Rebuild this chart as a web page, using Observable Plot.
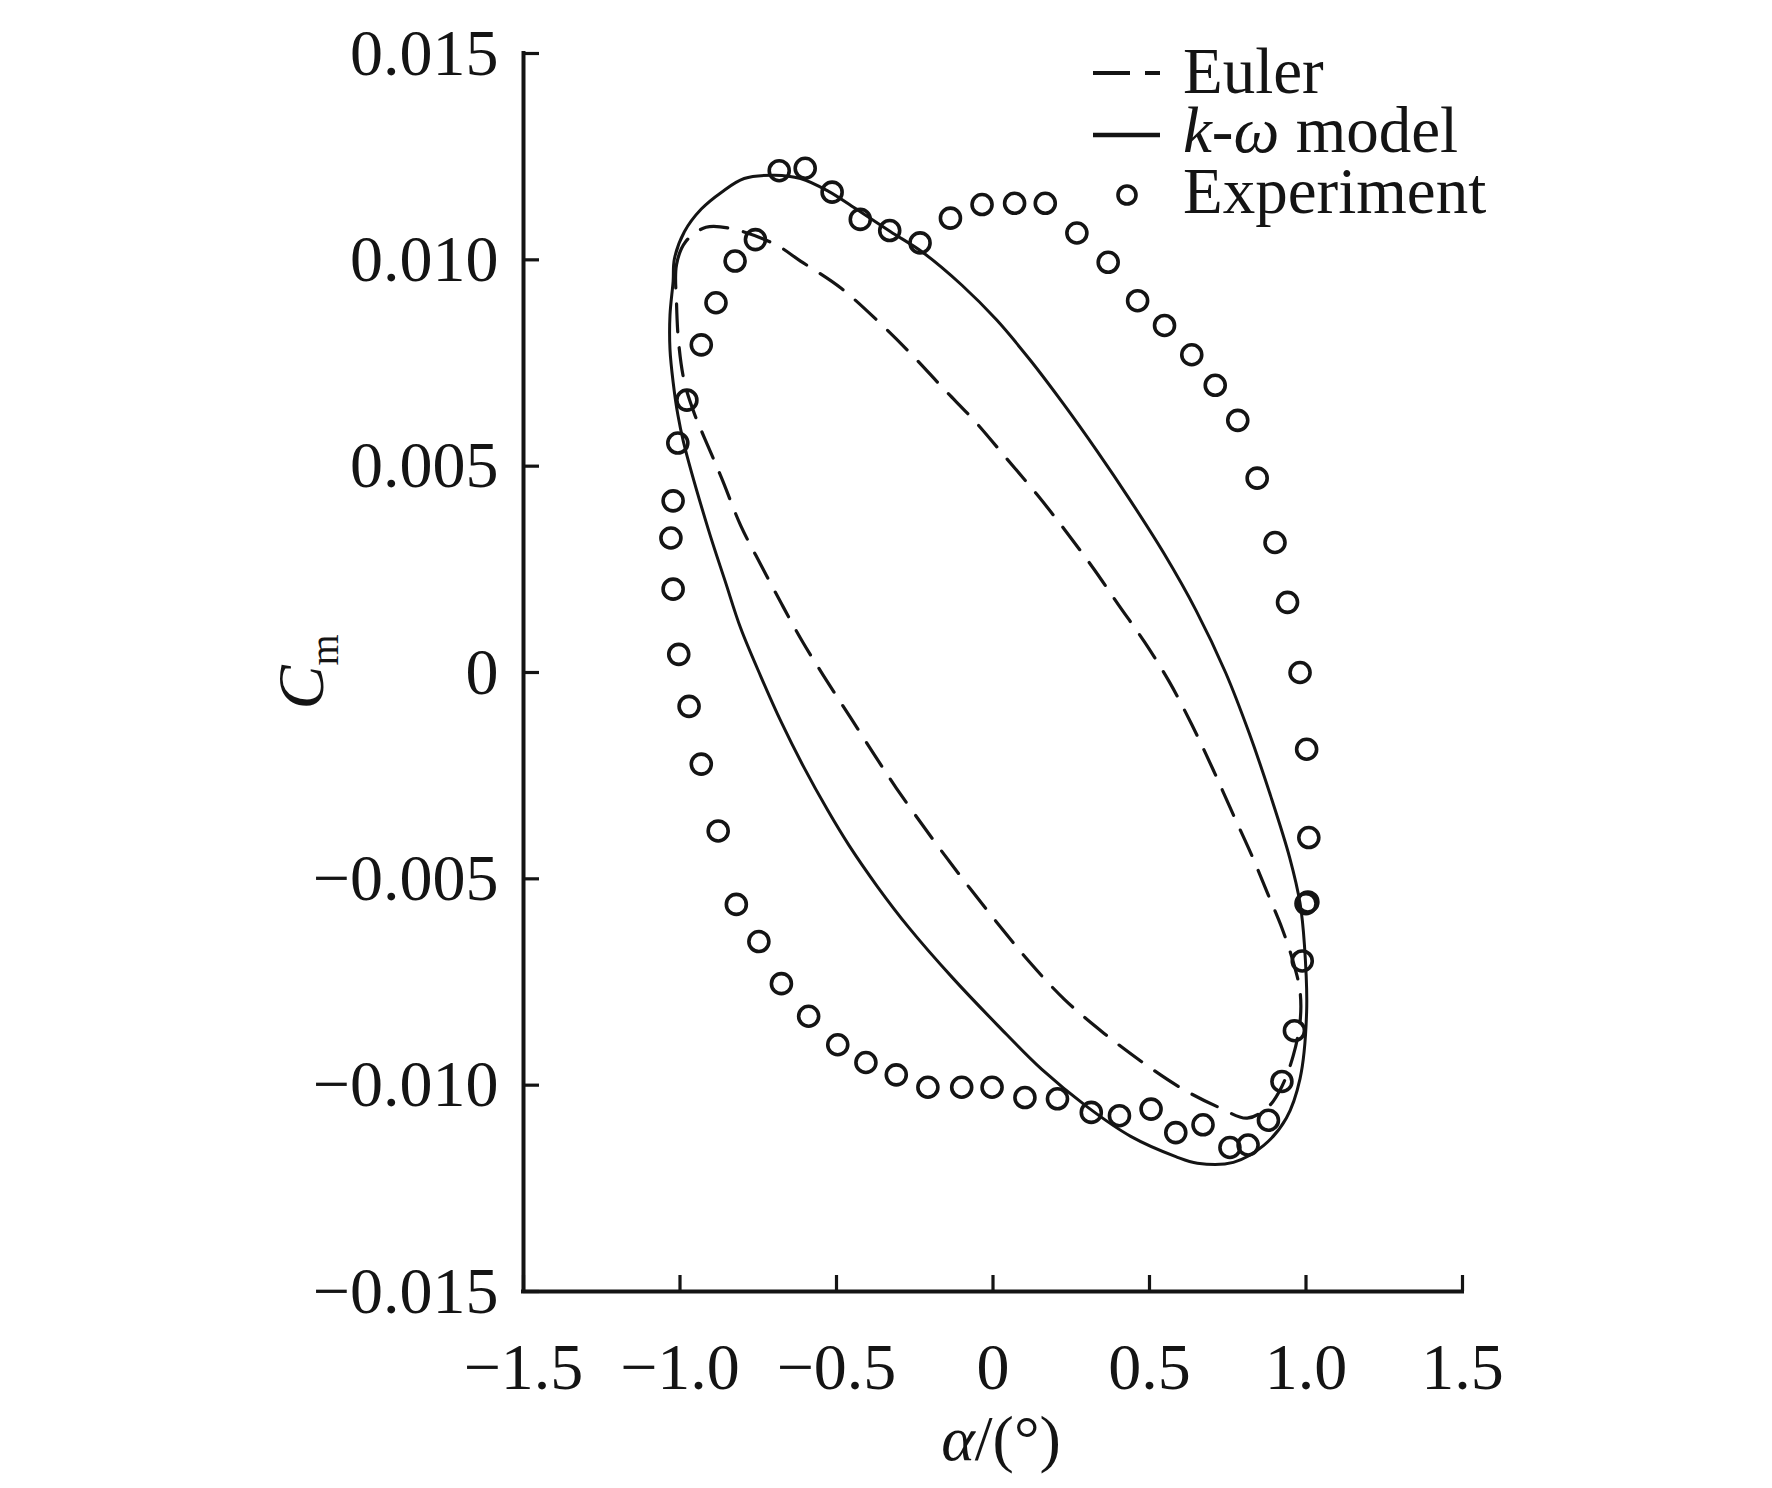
<!DOCTYPE html>
<html><head><meta charset="utf-8">
<script src="https://cdn.jsdelivr.net/npm/d3@7"></script>
<script src="https://cdn.jsdelivr.net/npm/@observablehq/plot@0.6"></script>
<style>html,body{margin:0;padding:0;background:#fff;} svg{display:block;}</style>
</head><body><div id="chart"></div>
<script>
// ---- tick values and labels ----
const xTicks = [-1.5, -1.0, -0.5, 0, 0.5, 1.0, 1.5];
const xTickLabels = ["\u22121.5", "\u22121.0", "\u22120.5", "0", "0.5", "1.0", "1.5"];
const yTicks = [0.015, 0.010, 0.005, 0, -0.005, -0.010, -0.015];
const yTickLabels = ["0.015", "0.010", "0.005", "0", "\u22120.005", "\u22120.010", "\u22120.015"];

// ---- legend labels ----
const legendLabels = ["Euler", "k-\u03c9 model", "Experiment"];

// ---- Experiment (circles) ----
const expAlpha = [-0.683,-0.600,-0.514,-0.424,-0.330,-0.233,-0.136,-0.035,0.069,0.167,0.268,0.368,0.462,0.548,0.635,0.710,0.782,0.844,0.901,0.941,0.981,1.002,1.009,1.006,1.000,0.988,0.963,0.923,0.880,0.815,0.757,0.671,0.584,0.505,0.404,0.314,0.206,0.102,-0.003,-0.100,-0.208,-0.309,-0.406,-0.496,-0.589,-0.676,-0.748,-0.820,-0.878,-0.932,-0.971,-1.004,-1.022,-1.029,-1.022,-1.007,-0.978,-0.932,-0.885,-0.824,-0.759];
const expCm = [0.01216,0.01222,0.01164,0.01098,0.01071,0.01041,0.01101,0.01134,0.01137,0.01137,0.01065,0.00994,0.00901,0.00841,0.00770,0.00696,0.00611,0.00471,0.00315,0.00170,0.00000,-0.00186,-0.00400,-0.00556,-0.00560,-0.00699,-0.00868,-0.00991,-0.01085,-0.01145,-0.01151,-0.01096,-0.01115,-0.01058,-0.01074,-0.01066,-0.01033,-0.01030,-0.01005,-0.01005,-0.01005,-0.00975,-0.00945,-0.00902,-0.00833,-0.00754,-0.00652,-0.00562,-0.00384,-0.00222,-0.00082,0.00044,0.00202,0.00326,0.00416,0.00556,0.00660,0.00794,0.00896,0.00997,0.01049];

// ---- k-omega model (solid closed loop) ----
const komegaAlpha = [-1.032,-1.032,-1.022,-1.018,-0.986,-0.932,-0.867,-0.795,-0.698,-0.615,-0.528,-0.431,-0.327,-0.226,-0.100,0.012,0.120,0.224,0.332,0.437,0.545,0.649,0.743,0.819,0.887,0.948,0.981,0.995,1.002,0.981,0.937,0.865,0.768,0.653,0.584,0.440,0.300,0.156,0.015,-0.129,-0.270,-0.370,-0.460,-0.528,-0.604,-0.676,-0.741,-0.806,-0.856,-0.910,-0.989,-1.007,-1.022];
const komegaCm = [0.00783,0.00866,0.00948,0.01002,0.01068,0.01123,0.01164,0.01197,0.01205,0.01197,0.01167,0.01120,0.01068,0.01019,0.00939,0.00854,0.00756,0.00652,0.00537,0.00419,0.00290,0.00150,0.00000,-0.00148,-0.00299,-0.00449,-0.00559,-0.00660,-0.00822,-0.00984,-0.01080,-0.01146,-0.01187,-0.01189,-0.01173,-0.01124,-0.01052,-0.00962,-0.00855,-0.00740,-0.00617,-0.00518,-0.00419,-0.00334,-0.00230,-0.00121,-0.00011,0.00107,0.00222,0.00348,0.00559,0.00625,0.00704];

// ---- Euler (dashed closed loop) ----
const eulerAlpha = [-1.011,-1.011,-0.982,-0.917,-0.838,-0.697,-0.615,-0.485,-0.345,-0.258,-0.157,-0.057,0.044,0.142,0.235,0.321,0.401,0.484,0.563,0.635,0.703,0.768,0.830,0.880,0.923,0.959,0.981,0.981,0.959,0.923,0.880,0.812,0.725,0.610,0.484,0.354,0.228,0.116,0.015,-0.093,-0.201,-0.309,-0.381,-0.453,-0.532,-0.608,-0.676,-0.741,-0.806,-0.867,-0.921,-0.953,-0.986,-1.004];
const eulerCm = [0.00893,0.00989,0.01044,0.01079,0.01076,0.01038,0.00997,0.00931,0.00835,0.00769,0.00687,0.00608,0.00518,0.00430,0.00340,0.00252,0.00164,0.00074,-0.00022,-0.00126,-0.00235,-0.00345,-0.00449,-0.00540,-0.00619,-0.00701,-0.00773,-0.00847,-0.00929,-0.01003,-0.01052,-0.01080,-0.01055,-0.01011,-0.00948,-0.00874,-0.00792,-0.00701,-0.00608,-0.00504,-0.00395,-0.00280,-0.00197,-0.00112,-0.00019,0.00074,0.00167,0.00260,0.00356,0.00471,0.00567,0.00625,0.00704,0.00797];

// ---- build tables ----
const toRows = (a, c) => a.map((v, i) => ({alpha: v, cm: c[i]}));
const expRows = toRows(expAlpha, expCm);
const komegaRows = toRows(komegaAlpha, komegaCm);
const eulerRows = toRows(eulerAlpha, eulerCm);

const ink = "#141414";
const serif = "'Liberation Serif','Times New Roman',Times,serif";
const xMin = xTicks[0], xMax = xTicks[xTicks.length - 1];
const yMin = yTicks[yTicks.length - 1], yMax = yTicks[0];

const chart = Plot.plot({
  width: 1772,
  height: 1488,
  marginLeft: 523,
  marginRight: 310,
  marginTop: 53,
  marginBottom: 197,
  x: {domain: [xMin, xMax], axis: null},
  y: {domain: [yMin, yMax], axis: null},
  style: {fontFamily: serif, background: "#fff", color: ink, overflow: "visible"},
  marks: [
    // axis lines
    Plot.ruleX([xMin], {stroke: ink, strokeWidth: 4, strokeLinecap: "square"}),
    Plot.ruleY([yMin], {stroke: ink, strokeWidth: 4, strokeLinecap: "square"}),
    // inward ticks
    Plot.ruleX(xTicks, {x: d => d, y1: () => yMin, y2: () => yMin, insetBottom: 16, stroke: ink, strokeWidth: 3.2}),
    Plot.ruleY(yTicks, {y: d => d, x1: () => xMin, x2: () => xMin, insetLeft: 16, stroke: ink, strokeWidth: 3.2}),
    // tick labels
    Plot.text(xTicks, {x: d => d, y: () => yMin, text: (d, i) => xTickLabels[i], dy: 76, fontSize: 66, fill: ink}),
    Plot.text(yTicks, {x: () => xMin, y: d => d, text: (d, i) => yTickLabels[i], textAnchor: "end", dx: -25, fontSize: 66, fill: ink}),
    // curves
    Plot.line(eulerRows, {x: "alpha", y: "cm", curve: "catmull-rom-closed", stroke: ink, strokeWidth: 3.2, strokeDasharray: "28,16"}),
    Plot.line(komegaRows, {x: "alpha", y: "cm", curve: "catmull-rom-closed", stroke: ink, strokeWidth: 3}),
    // experiment circles
    Plot.dot(expRows, {x: "alpha", y: "cm", r: 10, stroke: ink, strokeWidth: 3.6, fill: "none"})
  ]
});

document.getElementById("chart").appendChild(chart);
const svg = d3.select(chart);

// x-axis title: α/(°)
const xt = svg.append("text")
  .attr("x", 1001).attr("y", 1460)
  .attr("text-anchor", "middle")
  .attr("font-family", serif).attr("font-size", 64).attr("fill", ink);
xt.append("tspan").attr("font-style", "italic").text("\u03b1");
xt.append("tspan").text("/(\u00b0)");

// y-axis title: C_m
const yt = svg.append("text")
  .attr("transform", "translate(323,672) rotate(-90)")
  .attr("text-anchor", "middle")
  .attr("font-family", serif).attr("font-size", 66).attr("fill", ink);
yt.append("tspan").attr("font-style", "italic").text("C");
yt.append("tspan").attr("font-size", 40).attr("dy", 15).text("m");

// legend
const lg = svg.append("g").attr("font-family", serif).attr("font-size", 65)
  .attr("fill", ink).attr("text-anchor", "start");
lg.append("line").attr("x1", 1093).attr("x2", 1160).attr("y1", 73).attr("y2", 73)
  .attr("stroke", ink).attr("stroke-width", 4).attr("stroke-dasharray", "37,15");
lg.append("line").attr("x1", 1093).attr("x2", 1160).attr("y1", 135).attr("y2", 135)
  .attr("stroke", ink).attr("stroke-width", 4.5);
lg.append("circle").attr("cx", 1127).attr("cy", 195).attr("r", 9)
  .attr("fill", "none").attr("stroke", ink).attr("stroke-width", 3.6);
lg.append("text").attr("x", 1183).attr("y", 93).attr("text-anchor", "start").text(legendLabels[0]);
const kw = lg.append("text").attr("x", 1183).attr("y", 152).attr("text-anchor", "start");
kw.append("tspan").attr("font-style", "italic").text("k");
kw.append("tspan").text("-");
kw.append("tspan").attr("font-style", "italic").text("\u03c9");
kw.append("tspan").text(" model");
lg.append("text").attr("x", 1183).attr("y", 213).attr("text-anchor", "start").text(legendLabels[2]);
</script>
</body></html>
